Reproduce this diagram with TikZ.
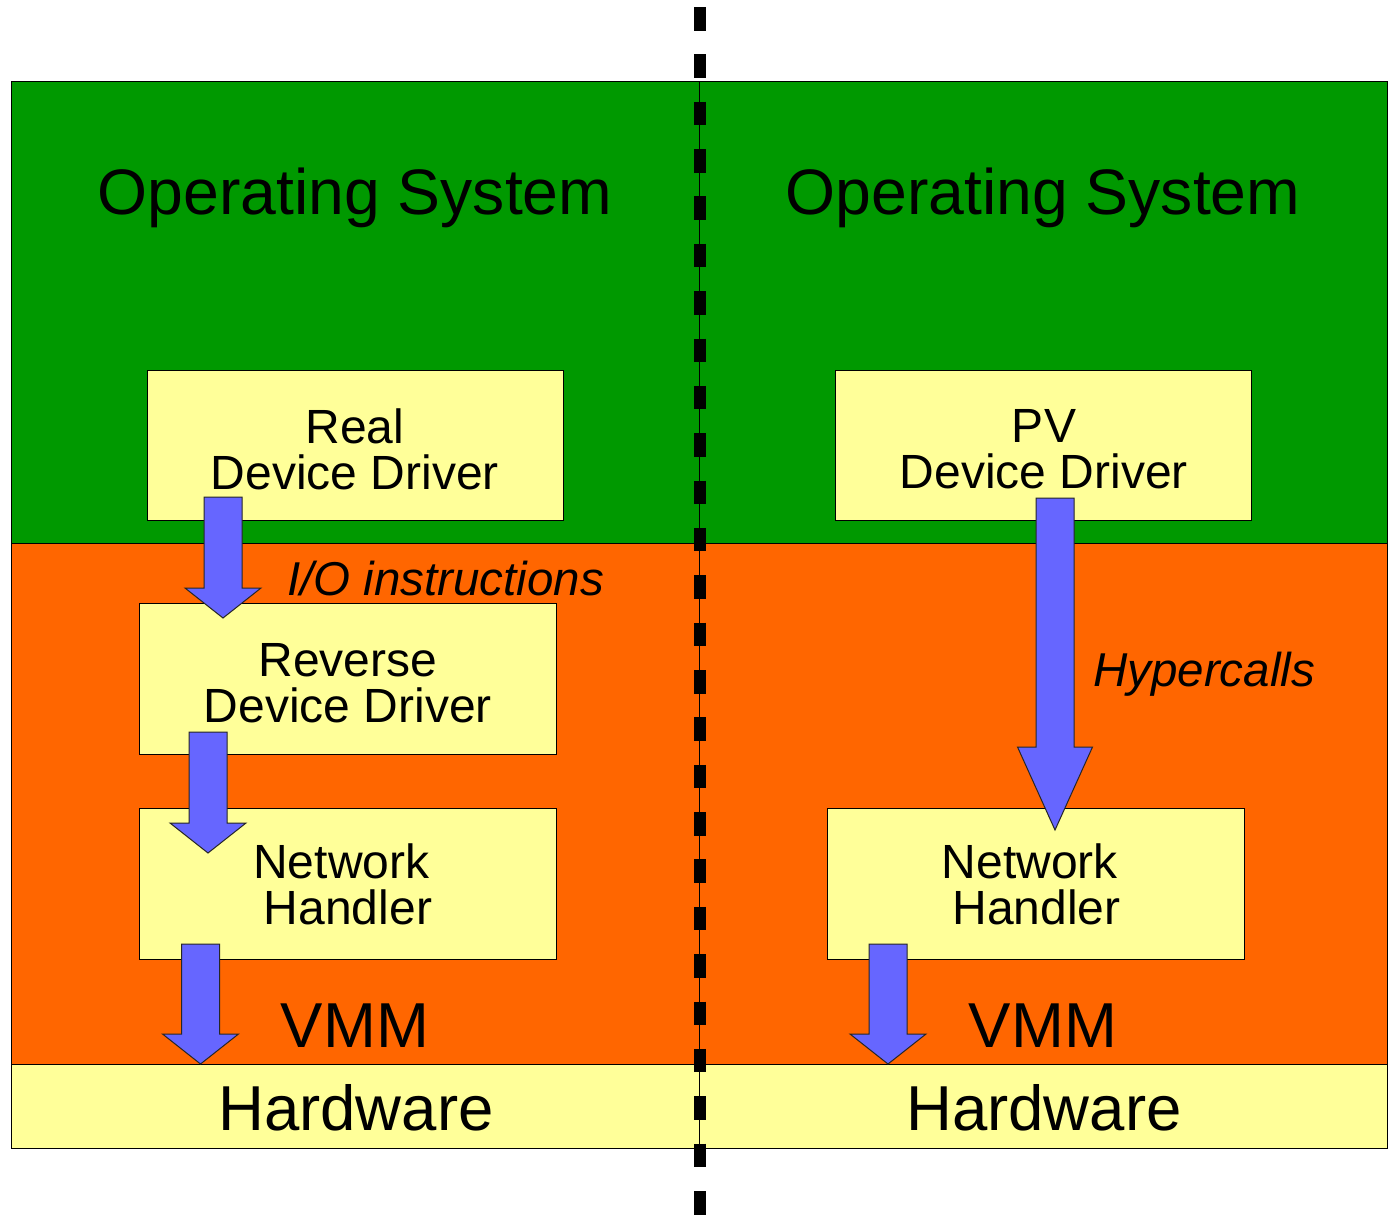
\documentclass[tikz,border=0pt]{standalone}
\usepackage{fontspec}
\setmainfont{Liberation Sans}
\definecolor{osgreen}{HTML}{009900}
\definecolor{vmmorange}{HTML}{FF6600}
\definecolor{hwyellow}{HTML}{FFFF99}
\definecolor{arrowblue}{HTML}{6666FF}
\newcommand\blockarrow[6]{%
  \filldraw[blockarr] (#1-#5,#2) -- (#1+#5,#2) -- (#1+#5,#3) -- (#1+#6,#3) -- (#1,#4) -- (#1-#6,#3) -- (#1-#5,#3) -- cycle;}
\begin{document}
\begin{tikzpicture}[x=1pt,y=-1pt,
  layer/.style={draw=black,line width=1pt},
  drvbox/.style={draw=black,line width=1pt,fill=hwyellow,inner sep=0pt,outer sep=0pt},
  boxtext/.style={font=\fontsize{48}{46}\selectfont,align=center,inner sep=0pt},
  bigtext/.style={font=\fontsize{63.5}{63}\selectfont,inner sep=0pt,anchor=base},
  ostext/.style={font=\fontsize{64.3}{63}\selectfont,inner sep=0pt,anchor=base},
  labeltext/.style={font=\fontsize{47.5}{46}\selectfont\itshape,inner sep=0pt,anchor=base west},
  blockarr/.style={fill=arrowblue,draw=black!85,line width=1pt,line join=miter},
  divider/.style={line width=12pt,dash pattern=on 23.5pt off 23.86pt}]
\useasboundingbox (0,0) rectangle (1388,1216);
% left panel layers
\filldraw[layer,fill=osgreen] (11,81) rectangle (699,543);
\filldraw[layer,fill=vmmorange] (11,543) rectangle (699,1064);
\filldraw[layer,fill=hwyellow] (11,1064) rectangle (699,1148);
% right panel layers
\filldraw[layer,fill=osgreen] (699,81) rectangle (1387,543);
\filldraw[layer,fill=vmmorange] (699,543) rectangle (1387,1064);
\filldraw[layer,fill=hwyellow] (699,1064) rectangle (1387,1148);
% layer titles
\node[ostext] (osL) at (355,214) {Operating System};
\node[ostext] (osR) at (1043,214) {Operating System};
\node[bigtext] (vmmL) at (355,1047) {VMM};
\node[bigtext] (vmmR) at (1043,1047) {VMM};
\node[bigtext] (hwL) at (356,1130) {Hardware};
\node[bigtext] (hwR) at (1044,1130) {Hardware};
% driver boxes
\filldraw[drvbox] (147,370) rectangle (563,520);
\node[boxtext] (realdd) at (355,449) {Real\\Device Driver};
\filldraw[drvbox] (139,603) rectangle (556,754);
\node[boxtext] (revdd) at (348,683) {Reverse\\Device Driver};
\filldraw[drvbox] (139,808) rectangle (556,959);
\node[boxtext] (nhL) at (348,884) {Network\hphantom{ }\\Handler};
\filldraw[drvbox] (835,370) rectangle (1251,520);
\node[boxtext] (pvdd) at (1044,449) {PV\\Device Driver};
\filldraw[drvbox] (827,808) rectangle (1244,959);
\node[boxtext] (nhR) at (1036.5,884) {Network\hphantom{ }\\Handler};
% arrows
\blockarrow{223}{497}{588}{618}{19}{38}
\blockarrow{208}{732}{823}{853}{19}{38}
\blockarrow{200.5}{944}{1034}{1064}{19}{38}
\blockarrow{1055}{498}{747}{830}{19}{37.5}
\blockarrow{888}{944}{1034}{1064}{19}{38}
% labels
\node[labeltext] (io) at (287,595) {I/O instructions};
\node[labeltext] (hc) at (1093,686) {Hypercalls};
% divider
\coordinate (divtop) at (699.5,7);
\coordinate (divbot) at (699.5,1216);
\draw[line width=1pt] (699.5,81) -- (699.5,1148);
\draw[divider] (divtop) -- (divbot);
\end{tikzpicture}
\end{document}
